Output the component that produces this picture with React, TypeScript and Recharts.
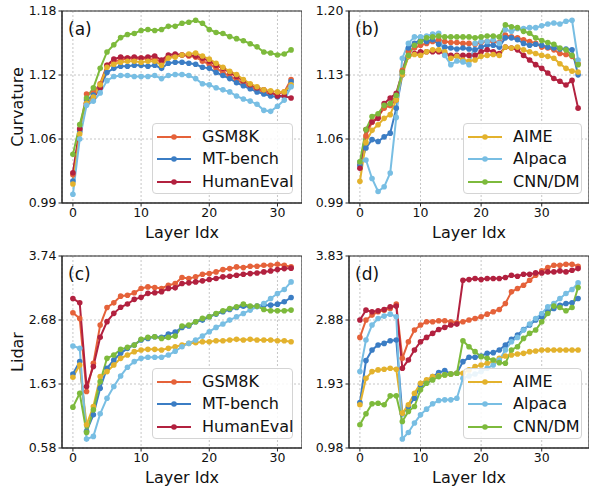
import { LineChart, Line, XAxis, YAxis, CartesianGrid, ReferenceArea } from 'recharts'

// series order = draw order (later ones on top)
const SERIES = [
  { key: 'gsm8k', label: 'GSM8K', color: '#E5623A' },
  { key: 'mtbench', label: 'MT-bench', color: '#3B7DC4' },
  { key: 'humaneval', label: 'HumanEval', color: '#B2213F' },
  { key: 'aime', label: 'AIME', color: '#E3B22D' },
  { key: 'alpaca', label: 'Alpaca', color: '#78BEE3' },
  { key: 'cnndm', label: 'CNN/DM', color: '#7DBA3C' },
]

// (a) curvature, model with 33 layers
const curvA_gsm8k = [1.020, 1.064, 1.099, 1.100, 1.109, 1.127, 1.131, 1.132, 1.134, 1.133, 1.134, 1.133, 1.133, 1.130, 1.135, 1.136, 1.137, 1.136, 1.135, 1.131, 1.128, 1.124, 1.120, 1.116, 1.113, 1.109, 1.106, 1.103, 1.101, 1.099, 1.099, 1.101, 1.113]
const curvA_mtbench = [1.014, 1.062, 1.093, 1.098, 1.105, 1.120, 1.124, 1.126, 1.126, 1.127, 1.127, 1.126, 1.127, 1.124, 1.129, 1.130, 1.130, 1.129, 1.128, 1.125, 1.124, 1.120, 1.117, 1.114, 1.110, 1.107, 1.104, 1.101, 1.099, 1.097, 1.096, 1.097, 1.111]
const curvA_humaneval = [1.022, 1.065, 1.090, 1.095, 1.105, 1.127, 1.133, 1.135, 1.134, 1.135, 1.134, 1.135, 1.136, 1.132, 1.137, 1.138, 1.137, 1.137, 1.136, 1.134, 1.131, 1.127, 1.124, 1.120, 1.116, 1.112, 1.108, 1.105, 1.103, 1.101, 1.097, 1.097, 1.095]
const curvA_aime = [1.011, 1.060, 1.090, 1.096, 1.108, 1.125, 1.128, 1.130, 1.131, 1.131, 1.130, 1.131, 1.131, 1.127, 1.134, 1.135, 1.137, 1.138, 1.139, 1.136, 1.133, 1.129, 1.125, 1.121, 1.118, 1.113, 1.109, 1.106, 1.103, 1.102, 1.101, 1.101, 1.108]
const curvA_alpaca = [1.001, 1.055, 1.088, 1.092, 1.100, 1.112, 1.116, 1.117, 1.117, 1.116, 1.116, 1.116, 1.117, 1.114, 1.117, 1.118, 1.118, 1.117, 1.114, 1.109, 1.108, 1.105, 1.103, 1.101, 1.097, 1.094, 1.092, 1.089, 1.083, 1.082, 1.087, 1.093, 1.106]
const curvA_cnndm = [1.040, 1.069, 1.095, 1.105, 1.124, 1.140, 1.147, 1.154, 1.157, 1.158, 1.161, 1.162, 1.161, 1.162, 1.165, 1.165, 1.168, 1.169, 1.171, 1.168, 1.162, 1.159, 1.158, 1.155, 1.153, 1.151, 1.148, 1.145, 1.140, 1.139, 1.137, 1.138, 1.142]

// (b) curvature, model with 37 layers
const curvB_gsm8k = [1.035, 1.065, 1.080, 1.086, 1.095, 1.098, 1.104, 1.136, 1.156, 1.160, 1.163, 1.165, 1.167, 1.169, 1.167, 1.166, 1.166, 1.165, 1.165, 1.164, 1.166, 1.167, 1.167, 1.166, 1.174, 1.172, 1.171, 1.169, 1.167, 1.165, 1.161, 1.160, 1.158, 1.154, 1.153, 1.151, 1.143]
const curvB_mtbench = [1.033, 1.052, 1.061, 1.059, 1.064, 1.068, 1.095, 1.131, 1.160, 1.165, 1.169, 1.167, 1.169, 1.164, 1.161, 1.160, 1.159, 1.160, 1.159, 1.158, 1.161, 1.163, 1.163, 1.161, 1.171, 1.171, 1.169, 1.165, 1.163, 1.164, 1.163, 1.161, 1.160, 1.159, 1.159, 1.158, 1.131]
const curvB_humaneval = [1.030, 1.072, 1.080, 1.084, 1.100, 1.106, 1.111, 1.134, 1.151, 1.154, 1.156, 1.156, 1.156, 1.156, 1.154, 1.152, 1.152, 1.152, 1.152, 1.152, 1.156, 1.158, 1.156, 1.154, 1.161, 1.160, 1.158, 1.152, 1.147, 1.142, 1.138, 1.133, 1.127, 1.124, 1.120, 1.125, 1.095]
const curvB_aime = [1.016, 1.058, 1.071, 1.077, 1.084, 1.088, 1.104, 1.131, 1.151, 1.153, 1.152, 1.156, 1.158, 1.158, 1.156, 1.149, 1.151, 1.147, 1.146, 1.147, 1.151, 1.152, 1.153, 1.152, 1.161, 1.160, 1.161, 1.158, 1.156, 1.154, 1.152, 1.151, 1.149, 1.143, 1.138, 1.135, 1.134]
const curvB_alpaca = [1.037, 1.039, 1.019, 1.005, 1.010, 1.025, 1.085, 1.149, 1.165, 1.172, 1.172, 1.173, 1.175, 1.176, 1.152, 1.142, 1.146, 1.145, 1.142, 1.165, 1.167, 1.167, 1.169, 1.165, 1.180, 1.178, 1.181, 1.181, 1.182, 1.182, 1.184, 1.186, 1.187, 1.186, 1.189, 1.190, 1.147]
const curvB_cnndm = [1.037, 1.072, 1.086, 1.089, 1.098, 1.100, 1.109, 1.134, 1.152, 1.163, 1.167, 1.171, 1.172, 1.173, 1.172, 1.172, 1.172, 1.172, 1.172, 1.171, 1.172, 1.173, 1.173, 1.172, 1.185, 1.183, 1.182, 1.178, 1.176, 1.171, 1.168, 1.166, 1.164, 1.160, 1.158, 1.152, 1.142]

// (c) lidar, 33 layers
const lidarC_gsm8k = [2.804, 2.711, 1.506, 1.971, 2.601, 2.892, 2.968, 3.078, 3.094, 3.133, 3.204, 3.231, 3.220, 3.204, 3.259, 3.285, 3.385, 3.368, 3.396, 3.440, 3.450, 3.478, 3.516, 3.532, 3.560, 3.549, 3.571, 3.571, 3.587, 3.587, 3.604, 3.587, 3.560]
const lidarC_mtbench = [1.796, 1.999, 0.850, 1.122, 1.561, 1.889, 2.026, 2.135, 2.218, 2.273, 2.355, 2.382, 2.410, 2.398, 2.453, 2.485, 2.563, 2.585, 2.656, 2.683, 2.738, 2.782, 2.820, 2.859, 2.891, 2.913, 2.902, 2.913, 2.930, 2.930, 2.946, 2.985, 3.056]
const lidarC_humaneval = [3.039, 2.968, 1.588, 1.918, 2.400, 2.658, 2.795, 2.894, 2.949, 3.025, 3.058, 3.124, 3.135, 3.152, 3.206, 3.215, 3.286, 3.297, 3.313, 3.330, 3.352, 3.368, 3.396, 3.406, 3.423, 3.440, 3.450, 3.461, 3.478, 3.494, 3.516, 3.532, 3.540]
const lidarC_aime = [1.741, 1.944, 0.958, 1.259, 1.752, 1.834, 1.944, 2.053, 2.108, 2.163, 2.190, 2.201, 2.201, 2.190, 2.218, 2.245, 2.273, 2.300, 2.311, 2.327, 2.327, 2.344, 2.344, 2.355, 2.366, 2.355, 2.366, 2.355, 2.355, 2.355, 2.344, 2.344, 2.327]
const lidarC_alpaca = [2.256, 2.218, 0.722, 0.766, 1.139, 1.396, 1.588, 1.763, 1.906, 1.999, 2.053, 2.070, 2.070, 2.070, 2.108, 2.170, 2.245, 2.300, 2.355, 2.420, 2.492, 2.563, 2.618, 2.683, 2.738, 2.793, 2.848, 2.902, 2.957, 3.040, 3.122, 3.187, 3.313]
const lidarC_cnndm = [1.248, 1.478, 0.832, 1.204, 1.670, 2.053, 2.108, 2.201, 2.234, 2.273, 2.366, 2.398, 2.410, 2.382, 2.398, 2.420, 2.585, 2.601, 2.656, 2.711, 2.738, 2.793, 2.837, 2.875, 2.902, 2.946, 2.913, 2.913, 2.859, 2.837, 2.837, 2.837, 2.848]

// (d) lidar, 37 layers
const lidarD_gsm8k = [2.622, 2.879, 2.953, 3.002, 3.026, 3.051, 3.115, 2.311, 2.558, 2.731, 2.805, 2.854, 2.854, 2.869, 2.869, 2.854, 2.839, 2.854, 2.879, 2.903, 2.928, 2.967, 3.002, 3.036, 3.125, 3.298, 3.347, 3.396, 3.470, 3.544, 3.609, 3.658, 3.692, 3.692, 3.707, 3.707, 3.678]
const lidarD_mtbench = [1.655, 2.277, 2.435, 2.509, 2.533, 2.573, 2.583, 1.488, 1.596, 1.719, 1.917, 1.966, 2.040, 2.099, 2.129, 2.079, 2.089, 2.262, 2.326, 2.326, 2.346, 2.385, 2.395, 2.435, 2.509, 2.592, 2.657, 2.740, 2.805, 2.879, 2.928, 3.002, 3.051, 3.100, 3.125, 3.135, 3.199]
const lidarD_humaneval = [2.879, 3.026, 3.002, 3.017, 3.036, 3.076, 3.086, 2.163, 2.287, 2.435, 2.558, 2.622, 2.681, 2.740, 2.770, 2.805, 2.819, 3.470, 3.480, 3.495, 3.480, 3.495, 3.495, 3.495, 3.510, 3.544, 3.530, 3.559, 3.559, 3.579, 3.579, 3.594, 3.594, 3.609, 3.594, 3.618, 3.643]
const lidarD_aime = [1.621, 2.015, 2.114, 2.139, 2.148, 2.163, 2.148, 1.497, 1.621, 1.793, 1.941, 1.991, 2.040, 2.050, 2.065, 2.079, 2.089, 2.089, 2.139, 2.188, 2.213, 2.237, 2.262, 2.311, 2.346, 2.361, 2.375, 2.385, 2.410, 2.420, 2.435, 2.435, 2.435, 2.435, 2.435, 2.435, 2.435]
const lidarD_alpaca = [2.114, 2.583, 2.805, 2.903, 2.938, 2.967, 2.928, 1.113, 1.211, 1.350, 1.473, 1.557, 1.636, 1.685, 1.695, 1.695, 1.719, 2.015, 2.050, 2.079, 2.114, 2.163, 2.213, 2.287, 2.435, 2.558, 2.622, 2.731, 2.819, 2.903, 2.977, 3.076, 3.125, 3.199, 3.273, 3.332, 3.431]
const lidarD_cnndm = [1.325, 1.488, 1.636, 1.645, 1.621, 1.754, 1.754, 1.374, 1.522, 1.596, 1.843, 1.941, 1.991, 2.040, 2.065, 2.079, 2.089, 2.573, 2.484, 2.410, 2.336, 2.311, 2.287, 2.247, 2.237, 2.435, 2.484, 2.607, 2.681, 2.731, 2.854, 2.977, 3.086, 3.066, 3.017, 3.066, 3.362]

const X_TICKS = [0, 10, 20, 30]

type PanelDef = {
  tag: string
  left: number
  top: number
  yDomain: [number, number]
  yLabels: string[]
  yTitle?: string
  legendKeys: string[]
  values: Record<string, number[]>
}

const PANELS: PanelDef[] = [
  {
    tag: '(a)', left: 2, top: 1, yDomain: [0.9925, 1.18],
    yLabels: ['0.99', '1.06', '1.12', '1.18'], yTitle: 'Curvature',
    legendKeys: ['gsm8k', 'mtbench', 'humaneval'],
    values: { gsm8k: curvA_gsm8k, mtbench: curvA_mtbench, humaneval: curvA_humaneval, aime: curvA_aime, alpaca: curvA_alpaca, cnndm: curvA_cnndm },
  },
  {
    tag: '(b)', left: 289, top: 1, yDomain: [0.9925, 1.2],
    yLabels: ['0.99', '1.06', '1.13', '1.20'],
    legendKeys: ['aime', 'alpaca', 'cnndm'],
    values: { gsm8k: curvB_gsm8k, mtbench: curvB_mtbench, humaneval: curvB_humaneval, aime: curvB_aime, alpaca: curvB_alpaca, cnndm: curvB_cnndm },
  },
  {
    tag: '(c)', left: 2, top: 246, yDomain: [0.575, 3.74],
    yLabels: ['0.58', '1.63', '2.68', '3.74'], yTitle: 'Lidar',
    legendKeys: ['gsm8k', 'mtbench', 'humaneval'],
    values: { gsm8k: lidarC_gsm8k, mtbench: lidarC_mtbench, humaneval: lidarC_humaneval, aime: lidarC_aime, alpaca: lidarC_alpaca, cnndm: lidarC_cnndm },
  },
  {
    tag: '(d)', left: 289, top: 246, yDomain: [0.98, 3.83],
    yLabels: ['0.98', '1.93', '2.88', '3.83'],
    legendKeys: ['aime', 'alpaca', 'cnndm'],
    values: { gsm8k: lidarD_gsm8k, mtbench: lidarD_mtbench, humaneval: lidarD_humaneval, aime: lidarD_aime, alpaca: lidarD_alpaca, cnndm: lidarD_cnndm },
  },
]

const CHART_W = 300
const CHART_H = 232
const Y_AXIS_W = 60
const PLOT_TOP = 10
const PLOT_W = 240
const PLOT_H = 192
const FRAME = '#262626'

const Panel = ({ p }: { p: PanelDef }) => {
  const [lo, hi] = p.yDomain
  const yTicks = [0, 1, 2, 3].map((k) => lo + ((hi - lo) * k) / 3)
  const n = p.values.gsm8k.length
  const rows = p.values.gsm8k.map((_, i) => {
    const row: Record<string, number> = { layer: i }
    for (const s of SERIES) row[s.key] = p.values[s.key][i]
    return row
  })
  const xMax = n - 1
  const xDom: [number, number] = [-0.05 * xMax, xMax * 1.05]
  const plotLeft = p.left + Y_AXIS_W
  const plotTop = p.top + PLOT_TOP
  const legendItems = SERIES.filter((s) => p.legendKeys.includes(s.key))
  const legendLeft = p.legendKeys[0] === 'gsm8k' ? plotLeft + 90 : plotLeft + 114
  const legendW = p.legendKeys[0] === 'gsm8k' ? 141 : 119

  return (
    <>
      <div style={{ position: 'absolute', left: p.left, top: p.top }}>
        <LineChart width={CHART_W} height={CHART_H} data={rows} margin={{ top: PLOT_TOP, right: 0, bottom: 0, left: 0 }}>
          <CartesianGrid stroke="#c6c6c6" strokeDasharray="2 2" />
          <XAxis
            type="number" dataKey="layer" domain={xDom} ticks={X_TICKS} allowDataOverflow
            height={CHART_H - PLOT_TOP - PLOT_H} tickSize={3.5} tickMargin={2}
            axisLine={{ stroke: FRAME }} tickLine={{ stroke: FRAME }}
            tick={{ fill: '#111', fontSize: 12.5 }}
          />
          <YAxis
            type="number" domain={[lo, hi]} ticks={yTicks} allowDataOverflow
            width={Y_AXIS_W} tickSize={3.5} tickMargin={2}
            tickFormatter={(_v: number, i: number) => p.yLabels[i]}
            axisLine={{ stroke: FRAME }} tickLine={{ stroke: FRAME }}
            tick={{ fill: '#111', fontSize: 12.5 }}
          />
          {SERIES.map((s) => (
            <Line
              key={s.key} type="linear" dataKey={s.key} stroke={s.color} strokeWidth={2}
              dot={{ r: 2.8, fill: s.color, stroke: s.color, strokeWidth: 0 }}
              activeDot={false} isAnimationActive={false}
            />
          ))}
          <ReferenceArea x1={xDom[0]} x2={xDom[1]} y1={lo} y2={hi} fill="none" stroke={FRAME} strokeWidth={1.1} ifOverflow="visible" />
        </LineChart>
      </div>

      <div style={{ position: 'absolute', left: plotLeft + 6, top: plotTop + 10, fontSize: 17, lineHeight: '17px' }}>{p.tag}</div>

      <div style={{ position: 'absolute', left: plotLeft + PLOT_W / 2 - 100, top: plotTop + PLOT_H + 21, width: 200, textAlign: 'center', fontSize: 16, lineHeight: '18px' }}>
        Layer Idx
      </div>

      {p.yTitle && (
        <div style={{ position: 'absolute', left: 18 - 60, top: plotTop + PLOT_H / 2 - 9, width: 120, textAlign: 'center', fontSize: 16, lineHeight: '18px', transform: 'rotate(-90deg)' }}>
          {p.yTitle}
        </div>
      )}

      <div style={{
        position: 'absolute', left: legendLeft, top: plotTop + 112, width: legendW, height: 71,
        boxSizing: 'border-box', border: '1px solid #d4d4d4', borderRadius: 4, background: 'rgba(255,255,255,0.85)',
      }}>
        {legendItems.map((s, i) => (
          <div key={s.key} style={{ position: 'absolute', left: 3, top: 4 + i * 22.3, height: 18, display: 'flex', alignItems: 'center' }}>
            <svg width={36} height={18}>
              <line x1={1} y1={9} x2={35} y2={9} stroke={s.color} strokeWidth={2} />
              <circle cx={18} cy={9} r={2.8} fill={s.color} />
            </svg>
            <span style={{ marginLeft: 10, fontSize: 16, lineHeight: '18px' }}>{s.label}</span>
          </div>
        ))}
      </div>
    </>
  )
}

export default function App() {
  return (
    <div style={{ position: 'absolute', left: 0, top: 0, width: 591, height: 486, background: '#fff', fontFamily: '"DejaVu Sans", sans-serif', color: '#111', overflow: 'hidden' }}>
      {PANELS.map((p) => <Panel key={p.tag} p={p} />)}
    </div>
  )
}
